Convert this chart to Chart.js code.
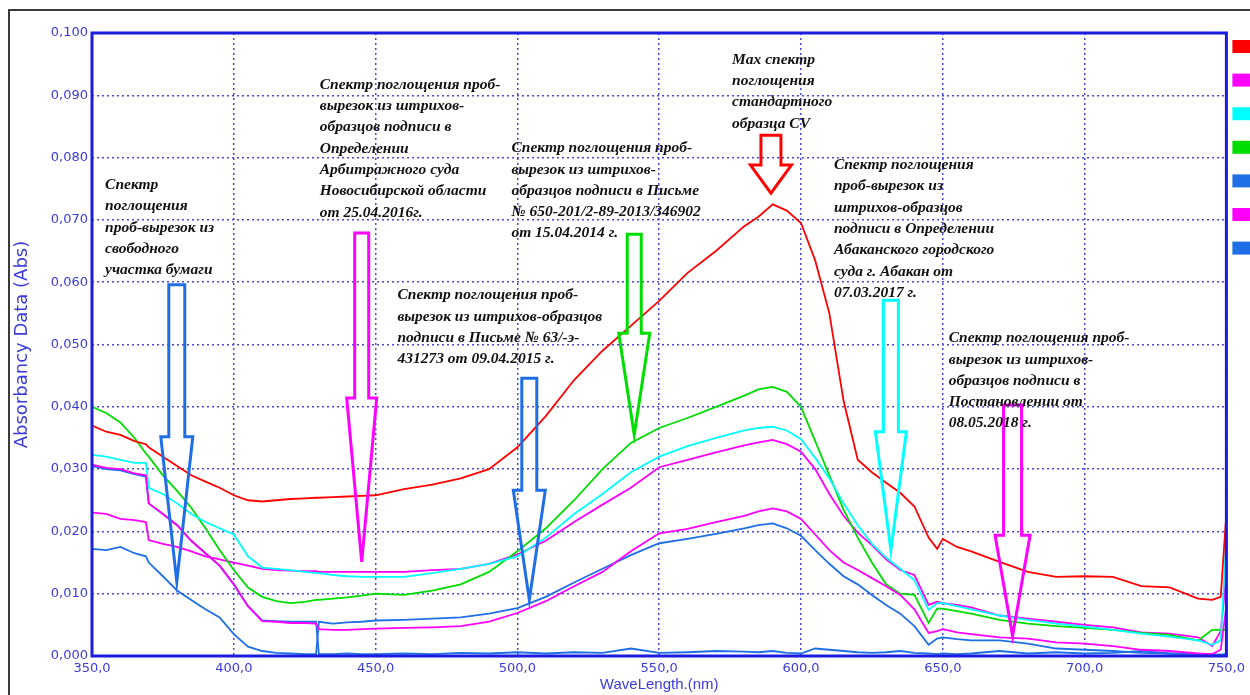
<!DOCTYPE html>
<html>
<head>
<meta charset="utf-8">
<script src="https://cdn.jsdelivr.net/npm/chart.js@4.4.0/dist/chart.umd.min.js"></script>
<style>
  body { margin: 0; background: #fff; }
  #wrap { width: 1250px; height: 695px; position: relative; }
</style>
</head>
<body>
<div id="wrap"><canvas id="spectra"></canvas></div>
<script>
// wavelengths (nm), shared by all curves
var waves = [350,355,360,365,369,370,375,380,385,390,395,400,405,410,415,420,425,429,430,435,440,445,450,460,470,480,490,500,
  510,520,530,540,550,560,570,580,585,590,595,600,605,610,615,620,625,630,635,640,645,648,650,655,660,670,680,690,700,710,720,730,740,745,748,750];

var redVals = [.037,.036,.0355,.0345,.034,.0335,.032,.0305,.029,.028,.027,.0258,.025,.0248,.025,.0252,.0253,.0254,.0254,.0255,.0256,.0257,.0258,.0268,.0275,.0285,.030,.0335,
  .0385,.0443,.049,.053,.057,.0615,.065,.069,.0705,.0725,.0715,.0695,.0635,.055,.041,.0315,.0295,.0278,.0262,.024,.019,.0172,.0188,.0175,.0168,.0151,.0135,.0127,.0128,.0127,.0112,.011,.0092,.009,.0095,.023];

var magentaA = [.0307,.0302,.030,.0293,.029,.0245,.0228,.021,.0185,.0165,.0145,.0115,.008,.0056,.0055,.0053,.0053,.0052,.0043,.0042,.0042,.0043,.0044,.0045,.0046,.0048,.0055,.0069,
  .0088,.0112,.0135,.0168,.0197,.0204,.0215,.0225,.0232,.0237,.0232,.022,.0195,.017,.015,.0138,.0125,.0112,.0098,.0075,.0037,.004,.0043,.0038,.0035,.003,.0028,.0022,.002,.0016,.001,.0008,.0004,.0003,.001,.008];

var cyanVals = [.0323,.032,.0315,.031,.031,.027,.026,.0245,.0228,.0215,.0205,.0195,.016,.0142,.014,.0138,.0135,.0133,.0133,.013,.0128,.0127,.0127,.0127,.0133,.014,.0148,.016,
  .019,.0228,.026,.0295,.032,.0337,.035,.0362,.0366,.0368,.0362,.0348,.0318,.0285,.0245,.021,.018,.0158,.014,.0122,.0074,.0085,.0085,.008,.0075,.0065,.0058,.0052,.0047,.0042,.0036,.0031,.0025,.0018,.0025,.019];

var greenVals = [.040,.039,.0375,.035,.0325,.032,.029,.0265,.0238,.0205,.017,.0138,.011,.0095,.0088,.0085,.0087,.009,.009,.0092,.0094,.0097,.0100,.0098,.0105,.0115,.0135,.0168,
  .0205,.025,.030,.0342,.0366,.0382,.040,.0418,.0428,.0432,.0424,.040,.0345,.029,.0235,.019,.015,.0115,.010,.0098,.0053,.0076,.0076,.0072,.0068,.0058,.0052,.0048,.0045,.0042,.0037,.0034,.0025,.0042,.0042,.0042];

var blueA = [.0172,.017,.0175,.0165,.016,.015,.0128,.0105,.009,.0075,.0062,.0035,.0015,.0008,.0005,.0004,.0003,.0003,.0055,.0052,.0054,.0055,.0057,.0058,.006,.0062,.0068,.0077,
  .0095,.0118,.014,.0162,.0181,.0188,.0196,.0205,.021,.0213,.0205,.0193,.017,.0148,.0128,.0115,.0098,.0082,.0068,.0048,.0018,.0028,.003,.0027,.0025,.0025,.002,.0012,.001,.0008,.0005,.0004,.0003,.0002,.0002,.0003];

var magentaB = [.023,.0228,.022,.0218,.0215,.0186,.018,.0175,.0168,.016,.0155,.015,.0145,.014,.0138,.0137,.0136,.0136,.0135,.0135,.0135,.0135,.0135,.0135,.0138,.014,.0148,.0163,
  .0185,.0215,.0243,.027,.0303,.0315,.0327,.0338,.0343,.0347,.034,.0328,.030,.026,.0225,.0198,.0178,.0155,.0138,.013,.0082,.0087,.0085,.0082,.0078,.0065,.006,.0055,.005,.0046,.0038,.0036,.003,.0016,.004,.013];

var blueB = [.0305,.030,.0298,.0292,.0288,.0245,.0228,.021,.0185,.0165,.0145,.0115,.008,.0057,.0056,.0055,.0055,.0055,.0003,.0003,.0004,.0003,.0003,.0004,.0003,.0005,.0004,.0006,
  .0004,.0006,.0005,.0012,.0005,.0006,.0008,.0007,.0006,.0008,.0005,.0004,.0012,.001,.0008,.0006,.0005,.0006,.0008,.0005,.0004,.0003,.0004,.0003,.0004,.0008,.0004,.0006,.0004,.0005,.0008,.0004,.0003,.0002,.0002,.0002];

var seriesNames = ["1","2","3","4","5","6","7"];
var seriesVals = [redVals, magentaA, cyanVals, greenVals, blueA, magentaB, blueB];
var seriesColors = ["#ff0000","#ff00ff","#00ffff","#00dd00","#1e6fe6","#ff00ff","#1e6fe6"];

// notes: left edge (nm), first line (Abs), text lines
var notes = [
  { x: 354.6, y: .0756, lines: ["Спектр","поглощения","проб-вырезок из","свободного","участка бумаги"] },
  { x: 430.3, y: .0917, lines: ["Спектр поглощения проб-","вырезок из штрихов-","образцов подписи в","Определении","Арбитражного суда","Новосибирской области","от 25.04.2016г."] },
  { x: 497.9, y: .0815, lines: ["Спектр поглощения проб-","вырезок из штрихов-","образцов подписи в Письме","№ 650-201/2-89-2013/346902","от 15.04.2014 г."] },
  { x: 575.7, y: .0957, lines: ["Max спектр","поглощения","стандартного","образца CV"] },
  { x: 611.6, y: .0788, lines: ["Спектр поглощения","проб-вырезок из","штрихов-образцов","подписи в Определении","Абаканского городского","суда г. Абакан от","07.03.2017 г."] },
  { x: 457.7, y: .0579, lines: ["Спектр поглощения проб-","вырезок из штрихов-образцов","подписи в Письме № 63/-э-","431273 от 09.04.2015 г."] },
  { x: 652.1, y: .0510, lines: ["Спектр поглощения проб-","вырезок из штрихов-","образцов подписи в","Постановлении от","08.05.2018 г."] }
];

// hollow arrows: centre (nm), shaft top, neck, tip (Abs)
var arrows = [
  { x: 379.9, top: .0596, neck: .0352, tip: .0119, shaft: 8, head: 16, color: "#1e6fe6" },
  { x: 445.1, top: .0679, neck: .0414, tip: .0151, shaft: 7, head: 15, color: "#ff00ff" },
  { x: 504.2, top: .0446, neck: .0266, tip: .0090, shaft: 7.5, head: 16, color: "#1e6fe6" },
  { x: 541.2, top: .0677, neck: .0518, tip: .0355, shaft: 7, head: 15.5, color: "#00dd00" },
  { x: 589.4, top: .0836, neck: .0788, tip: .0743, shaft: 10, head: 20.5, color: "#ff0000" },
  { x: 631.7, top: .0571, neck: .0360, tip: .0170, shaft: 7.5, head: 15.5, color: "#00ffff" },
  { x: 674.6, top: .0403, neck: .0194, tip: .0032, shaft: 9, head: 17.5, color: "#ff00ff" }
];

var axisBlue = "#1c1ce0";
var tickBlue = "#3b3bdc";
var gridBlue = "#4a4ad8";

var datasets = seriesVals.map(function (vals, i) {
  return {
    label: seriesNames[i],
    data: waves.map(function (w, j) { return { x: w, y: vals[j] }; }),
    borderColor: seriesColors[i],
    borderWidth: 1.8,
    pointRadius: 0,
    tension: 0,
    fill: false
  };
});

var extras = {
  id: "extras",
  beforeDraw: function (chart) {
    var ctx = chart.ctx;
    ctx.save();
    ctx.fillStyle = "#fff";
    ctx.fillRect(0, 0, chart.width, chart.height);
    ctx.strokeStyle = "#3a3a3a";
    ctx.lineWidth = 2;
    ctx.beginPath();
    ctx.moveTo(9, chart.height);
    ctx.lineTo(9, 10);
    ctx.lineTo(chart.width, 10);
    ctx.stroke();
    ctx.restore();
  },
  afterDatasetsDraw: function (chart) {
    var ctx = chart.ctx;
    var xs = chart.scales.x, ys = chart.scales.y;
    var area = chart.chartArea;
    ctx.save();
    // plot frame
    ctx.strokeStyle = axisBlue;
    ctx.lineWidth = 3;
    ctx.strokeRect(area.left, area.top, area.right - area.left, area.bottom - area.top);

    arrows.forEach(function (a) {
      var cx = xs.getPixelForValue(a.x);
      var top = ys.getPixelForValue(a.top);
      var neck = ys.getPixelForValue(a.neck);
      var tip = ys.getPixelForValue(a.tip);
      ctx.beginPath();
      ctx.moveTo(cx - a.shaft, top);
      ctx.lineTo(cx + a.shaft, top);
      ctx.lineTo(cx + a.shaft, neck);
      ctx.lineTo(cx + a.head, neck);
      ctx.lineTo(cx, tip);
      ctx.lineTo(cx - a.head, neck);
      ctx.lineTo(cx - a.shaft, neck);
      ctx.closePath();
      ctx.strokeStyle = a.color;
      ctx.lineWidth = 3;
      ctx.lineJoin = "miter";
      ctx.stroke();
    });

    ctx.fillStyle = "#111";
    ctx.font = "italic bold 15.5px 'Liberation Serif'";
    ctx.textBaseline = "middle";
    ctx.textAlign = "left";
    notes.forEach(function (n) {
      var x = xs.getPixelForValue(n.x);
      var y = ys.getPixelForValue(n.y);
      n.lines.forEach(function (line, k) {
        ctx.fillText(line, x, y + k * 21.3);
      });
    });

    // legend swatches, labels run off the page
    seriesColors.forEach(function (c, i) {
      ctx.fillStyle = c;
      ctx.fillRect(area.right + 6, area.top + 7 + i * 33.6, 20, 13);
    });
    ctx.restore();
  }
};

new Chart("spectra", {
  type: "line",
  data: { datasets: datasets },
  plugins: [extras],
  options: {
    responsive: true,
    maintainAspectRatio: false,
    animation: false,
    layout: { padding: { left: 0, top: 33, right: 22, bottom: 0 } },
    plugins: { legend: { display: false }, tooltip: { enabled: false } },
    scales: {
      x: {
        type: "linear",
        min: 350, max: 750,
        afterFit: function (s) { s.height = 39; },
        border: { display: false, dash: [2, 3] },
        grid: { color: gridBlue, lineWidth: 1.5, drawTicks: false },
        ticks: {
          stepSize: 50, padding: 5, color: tickBlue, maxRotation: 0,
          font: { family: "DejaVu Sans", size: 13 },
          callback: function (v) { return v.toFixed(1).replace(".", ","); }
        },
        title: { display: true, text: "WaveLength.(nm)", color: tickBlue, padding: { top: 0, bottom: 1 },
          font: { family: "Liberation Sans", size: 15 } }
      },
      y: {
        min: 0, max: 0.1,
        afterFit: function (s) { s.width = 92; },
        border: { display: false, dash: [2, 3] },
        grid: { color: gridBlue, lineWidth: 1.5, drawTicks: false },
        ticks: {
          stepSize: 0.01, padding: 4, color: tickBlue,
          font: { family: "DejaVu Sans", size: 13 },
          callback: function (v) { return v.toFixed(3).replace(".", ","); }
        },
        title: { display: true, text: "Absorbancy Data (Abs)", color: tickBlue, padding: { top: 12, bottom: 0 },
          font: { family: "DejaVu Sans", size: 18 } }
      }
    }
  }
});
</script>
</body>
</html>
